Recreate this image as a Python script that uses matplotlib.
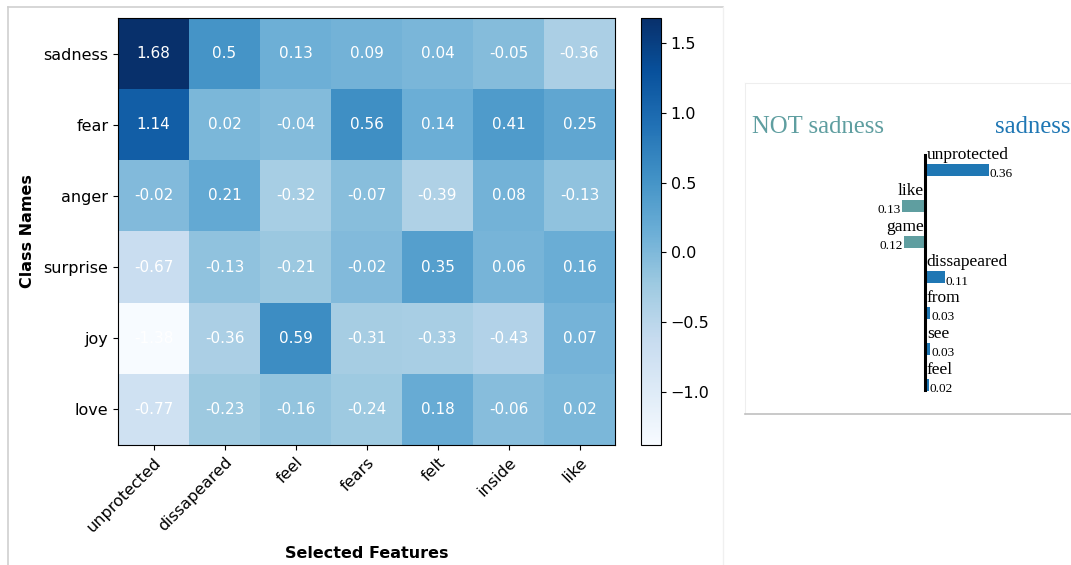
import numpy as np
import matplotlib.pyplot as plt
from matplotlib.lines import Line2D

# heatmap data
class_names = ["sadness", "fear", "anger", "surprise", "joy", "love"]
features = ["unprotected", "dissapeared", "feel", "fears", "felt", "inside", "like"]
scores = np.array([
    [1.68, 0.50, 0.13, 0.09, 0.04, -0.05, -0.36],
    [1.14, 0.02, -0.04, 0.56, 0.14, 0.41, 0.25],
    [-0.02, 0.21, -0.32, -0.07, -0.39, 0.08, -0.13],
    [-0.67, -0.13, -0.21, -0.02, 0.35, 0.06, 0.16],
    [-1.38, -0.36, 0.59, -0.31, -0.33, -0.43, 0.07],
    [-0.77, -0.23, -0.16, -0.24, 0.18, -0.06, 0.02],
])

# lime explanation for "sadness"
lime_words = ["unprotected", "like", "game", "dissapeared", "from", "see", "feel"]
lime_weights = [0.36, -0.13, -0.12, 0.11, 0.03, 0.03, 0.02]

plt.rcParams["font.size"] = 11.5
fig = plt.figure(figsize=(10.71, 5.65), dpi=100)
W, H = 1071, 565

def box(x0, y0, x1, y1):
    return [x0 / W, 1 - y1 / H, (x1 - x0) / W, (y1 - y0) / H]

# --- heatmap ---
ax = fig.add_axes(box(118, 18, 615, 445))
im = ax.imshow(scores, cmap="Blues", aspect="auto")
ax.set_xticks(range(len(features)))
ax.set_yticks(range(len(class_names)))
ax.set_xticklabels(features, rotation=45, ha="right", rotation_mode="anchor")
ax.set_yticklabels(class_names)
for i in range(scores.shape[0]):
    for j in range(scores.shape[1]):
        ax.text(j, i, f"{scores[i, j]:g}", ha="center", va="center", color="w", fontsize=11)
ax.set_xlabel("Selected Features", fontweight="bold", labelpad=8)
ax.set_ylabel("Class Names", fontweight="bold", labelpad=6)

cax = fig.add_axes(box(641, 18, 661, 445))
fig.colorbar(im, cax=cax)

# light frame around the heatmap panel
fig.add_artist(Line2D([8 / W, 723 / W], [1 - 7 / H, 1 - 7 / H], color="#d0d0d0", lw=1.2))
fig.add_artist(Line2D([8 / W, 8 / W], [0, 1 - 7 / H], color="#cfcfcf", lw=1.2))
fig.add_artist(Line2D([723 / W, 723 / W], [0, 1 - 7 / H], color="#f0f0f0", lw=1))

# --- lime bar panel ---
px_per_unit = 178.0
zero_px, row0_px, row_px = 925, 170, 35.8
lx0, ly0, lx1, ly1 = 745, 83, 1071, 414
lax = fig.add_axes(box(lx0, ly0, lx1, ly1))
lax.set_xlim((lx0 - zero_px) / px_per_unit, (lx1 - zero_px) / px_per_unit)
lax.set_ylim((ly1 - row0_px) / row_px, (ly0 - row0_px) / row_px)
lax.set_xticks([])
lax.set_yticks([])
lax.spines["right"].set_visible(False)
lax.spines["top"].set_color("#eeeeee")
lax.spines["left"].set_color("#eeeeee")
lax.spines["bottom"].set_color("#c0c0c0")
lax.spines["bottom"].set_linewidth(1.2)

pos_col, neg_col = "#1f77b4", "#5f9ea0"
serif = "Liberation Serif"
ys = np.arange(len(lime_words))
colors = [pos_col if w > 0 else neg_col for w in lime_weights]
lax.barh(ys, lime_weights, height=0.34, color=colors)
lax.plot([0, 0], [-0.42, len(lime_words) - 0.85], color="black", lw=2.2)
for y, word, w in zip(ys, lime_words, lime_weights):
    if w > 0:
        lax.text(0.01, y - 0.42, word, ha="left", va="center", family=serif, fontsize=12.5)
        lax.text(w + 0.005, y + 0.12, f"{abs(w):.2f}", ha="left", va="center", family=serif, fontsize=9.5)
    else:
        lax.text(-0.005, y - 0.42, word, ha="right", va="center", family=serif, fontsize=12.5)
        lax.text(w - 0.005, y + 0.12, f"{abs(w):.2f}", ha="right", va="center", family=serif, fontsize=9.5)

lax.text((752 - zero_px) / px_per_unit, (127 - row0_px) / row_px, "NOT sadness",
         ha="left", va="center", family=serif, fontsize=17.8, color=neg_col)
lax.text((1070 - zero_px) / px_per_unit, (127 - row0_px) / row_px, "sadness",
         ha="right", va="center", family=serif, fontsize=17.8, color=pos_col, clip_on=False)

fig.savefig("out.png", dpi=100)
